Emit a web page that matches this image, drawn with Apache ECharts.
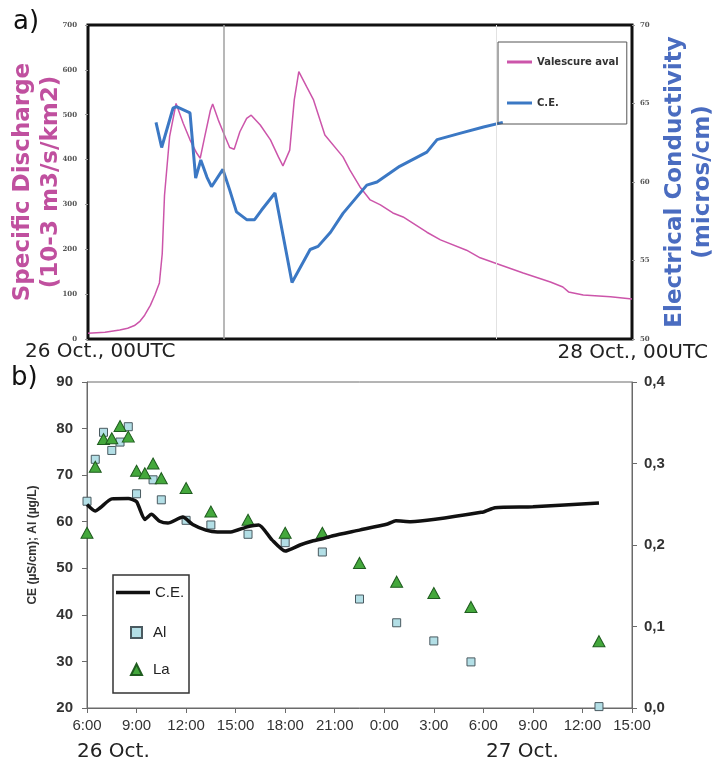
<!DOCTYPE html>
<html>
<head>
<meta charset="utf-8">
<script src="https://cdn.jsdelivr.net/npm/echarts@6/dist/echarts.min.js"></script>
<style>
  html, body { margin: 0; padding: 0; background: #fff; }
  #chart { width: 714px; height: 763px; }
</style>
</head>
<body>
<div id="chart"></div>
<script>
// a) hours since 26 Oct 00UTC
const qHours = [0, 1.5, 2.8, 3.5, 4.1, 4.6, 5.0, 5.5, 5.9, 6.3, 6.55, 6.75, 7.2, 7.77, 8.4, 9.0, 9.6, 9.9, 10.3, 10.8, 11.0, 11.5, 12.1, 12.5, 12.9, 13.4, 14.0, 14.4, 15.2, 16.1, 16.8, 17.2, 17.8, 18.2, 18.6, 19.3, 19.9, 20.9, 22.5, 23.1, 24.0, 24.9, 25.8, 26.9, 27.8, 29.9, 31.1, 33.4, 34.6, 36.4, 38.4, 40.8, 41.9, 42.4, 43.7, 46.1, 48];
const qValues = [13, 15, 20, 24, 30, 40, 53, 75, 98, 125, 190, 320, 451, 525, 481, 444, 414, 403, 451, 510, 524, 488, 451, 427, 423, 462, 492, 499, 477, 444, 406, 386, 421, 533, 596, 562, 533, 455, 406, 377, 339, 310, 299, 281, 272, 238, 221, 198, 181, 165, 147, 127, 116, 105, 98, 94, 89];
const ecaHours = [6.0, 6.5, 7.5, 7.8, 9.0, 9.5, 9.95, 10.5, 10.9, 11.9, 12.5, 13.1, 14.0, 14.7, 15.3, 16.5, 18.0, 19.6, 20.3, 21.4, 22.5, 24.6, 25.5, 27.5, 29.9, 30.8, 32.8, 34.9, 36.6];
const ecaValues = [63.8, 62.2, 64.7, 64.8, 64.4, 60.25, 61.4, 60.3, 59.7, 60.8, 59.5, 58.1, 57.6, 57.6, 58.2, 59.3, 53.6, 55.7, 55.9, 56.8, 58.0, 59.8, 60.0, 61.0, 61.9, 62.7, 63.1, 63.5, 63.8];

// b) hours since 26 Oct 00:00
const ceHours = [6.0, 6.5, 6.8, 7.5, 8.5, 9.0, 9.5, 9.9, 10.4, 10.9, 11.8, 12.4, 13.2, 13.9, 14.7, 15.7, 16.4, 17.2, 18.0, 18.9, 19.7, 20.2, 20.9, 22.5, 24.2, 24.7, 25.6, 30.0, 30.7, 33.0, 37.0];
const ceValues = [63.7, 62.3, 63.0, 64.9, 65.0, 64.3, 60.5, 61.6, 60.1, 59.7, 61.0, 59.4, 58.2, 57.8, 57.8, 58.9, 59.3, 56.1, 53.7, 55.0, 55.9, 56.3, 57.0, 58.2, 59.5, 60.2, 60.0, 62.1, 63.0, 63.2, 64.0];
const alHours = [6.0, 6.5, 7.0, 7.5, 8.0, 8.5, 9.0, 10.0, 10.5, 12.0, 13.5, 15.75, 18.0, 20.25, 22.5, 24.75, 27.0, 29.25, 37.0];
const alValues = [64.4, 73.4, 79.2, 75.3, 77.1, 80.4, 66.0, 69.0, 64.7, 60.3, 59.3, 57.3, 55.5, 53.5, 43.4, 38.3, 34.4, 29.9, 20.3];
const laHours = [6.0, 6.5, 7.0, 7.5, 8.0, 8.5, 9.0, 9.5, 10.0, 10.5, 12.0, 13.5, 15.75, 18.0, 20.25, 22.5, 24.75, 27.0, 29.25, 37.0];
const laValues = [0.215, 0.296, 0.330, 0.331, 0.346, 0.333, 0.291, 0.288, 0.300, 0.282, 0.270, 0.241, 0.231, 0.215, 0.215, 0.178, 0.155, 0.141, 0.124, 0.082];

const zip = (xs, ys) => xs.map((x, i) => [x, ys[i]]);

const chart = echarts.init(document.getElementById('chart'));

const tinyLabel = { fontSize: 7, fontFamily: 'DejaVu Serif', fontWeight: 'bold', color: '#555' };
const armLabel = { fontSize: 15, fontFamily: 'Liberation Sans', fontWeight: 'bold', color: '#333' };
const greyLine = { lineStyle: { color: '#6a6a6a', width: 1 } };

chart.setOption({
    animation: false,
    backgroundColor: '#fff',
    grid: [
        { left: 88, top: 25, width: 544, height: 314, show: true, borderColor: '#111', borderWidth: 3, outerBoundsMode: 'none' },
        { left: 87, top: 382, width: 545, height: 326, show: true, borderColor: '#6a6a6a', borderWidth: 1, outerBoundsMode: 'none' }
    ],
    legend: [
        {
            data: [{ name: 'Valescure aval', icon: 'rect' }, { name: 'CE_a', icon: 'rect' }],
            orient: 'vertical', left: 498, top: 42,
            itemWidth: 25, itemHeight: 3, itemGap: 31, padding: [15, 8, 16, 9],
            borderColor: '#555', borderWidth: 1,
            formatter: name => (name === 'CE_a' ? 'C.E.' : name),
            textStyle: { fontSize: 10, fontWeight: 'bold', fontFamily: 'DejaVu Sans', color: '#333' }
        },
        {
            data: [{ name: 'C.E.', icon: 'rect' }], left: 116, top: 585, padding: 0,
            itemWidth: 34, itemHeight: 3.5,
            textStyle: { fontSize: 15, fontFamily: 'Liberation Sans', color: '#222' }
        },
        {
            data: ['Al', 'La'], orient: 'vertical', left: 130, top: 625, padding: 0,
            itemWidth: 11, itemHeight: 11, itemGap: 22,
            textStyle: { fontSize: 15, fontFamily: 'Liberation Sans', color: '#222', padding: [0, 0, 0, 6] }
        }
    ],
    xAxis: [
        {
            gridIndex: 0, type: 'value', min: 0, max: 48,
            axisLine: { show: false }, axisTick: { show: false }, axisLabel: { show: false }, splitLine: { show: false }
        },
        {
            gridIndex: 1, type: 'value', min: 6, max: 39, interval: 3,
            axisLine: greyLine, axisTick: { show: true, length: 5, ...greyLine },
            axisLabel: { margin: 10, fontSize: 15, fontFamily: 'Liberation Sans', color: '#333', formatter: v => (v % 24) + ':00' },
            splitLine: { show: false }
        }
    ],
    yAxis: [
        {
            gridIndex: 0, type: 'value', min: 0, max: 700, interval: 100,
            name: 'Specific Discharge\n(10-3 m3/s/km2)', nameLocation: 'middle', nameGap: 23, nameMoveOverlap: false,
            nameTextStyle: { color: '#c0509f', fontSize: 23, fontWeight: 'bold', fontFamily: 'DejaVu Sans', lineHeight: 28 },
            axisLine: { show: false }, axisTick: { show: true, length: 3, lineStyle: { color: '#999' } },
            axisLabel: { margin: 11, ...tinyLabel }, splitLine: { show: false }
        },
        {
            gridIndex: 0, type: 'value', position: 'right', min: 50, max: 70, interval: 5,
            name: 'Electrical Conductivity\n(micros/cm)', nameLocation: 'middle', nameGap: 25,
            nameTextStyle: { color: '#4a6cc0', fontSize: 23, fontWeight: 'bold', fontFamily: 'DejaVu Sans', lineHeight: 28 },
            axisLine: { show: false }, axisTick: { show: true, length: 3, lineStyle: { color: '#999' } },
            axisLabel: { margin: 8, ...tinyLabel }, splitLine: { show: false }
        },
        {
            gridIndex: 1, type: 'value', min: 20, max: 90, interval: 10,
            name: 'CE (µS/cm); Al (µg/L)', nameLocation: 'middle', nameGap: 48,
            nameTextStyle: { fontSize: 12, fontWeight: 'bold', fontFamily: 'Liberation Sans', color: '#333' },
            axisLine: { show: true, ...greyLine }, axisTick: { show: true, length: 5, ...greyLine },
            axisLabel: { margin: 14, ...armLabel }, splitLine: { show: false }
        },
        {
            gridIndex: 1, type: 'value', position: 'right', min: 0, max: 0.4, interval: 0.1,
            axisLine: { show: true, ...greyLine }, axisTick: { show: true, length: 5, ...greyLine },
            axisLabel: { margin: 12, ...armLabel, formatter: v => v.toFixed(1).replace('.', ',') },
            splitLine: { show: false }
        }
    ],
    graphic: [
        { type: 'text', x: 13, y: 22, style: { text: 'a)', fontSize: 26, fontFamily: 'DejaVu Sans', fill: '#111', textVerticalAlign: 'middle' } },
        { type: 'text', x: 25, y: 352, style: { text: '26 Oct., 00UTC', fontSize: 20, fontFamily: 'DejaVu Sans', fill: '#222', textVerticalAlign: 'middle' } },
        { type: 'text', x: 708, y: 353, style: { text: '28 Oct., 00UTC', fontSize: 20, fontFamily: 'DejaVu Sans', fill: '#222', textAlign: 'right', textVerticalAlign: 'middle' } },
        { type: 'text', x: 11, y: 378, style: { text: 'b)', fontSize: 26, fontFamily: 'DejaVu Sans', fill: '#111', textVerticalAlign: 'middle' } },
        { type: 'text', x: 77, y: 752, style: { text: '26 Oct.', fontSize: 20, fontFamily: 'DejaVu Sans', fill: '#222', textVerticalAlign: 'middle' } },
        { type: 'text', x: 486, y: 752, style: { text: '27 Oct.', fontSize: 20, fontFamily: 'DejaVu Sans', fill: '#222', textVerticalAlign: 'middle' } },
        { type: 'rect', shape: { x: 113, y: 575, width: 76, height: 118 }, style: { fill: 'none', stroke: '#333', lineWidth: 1.5 } }
    ],
    series: [
        {
            name: 'Valescure aval', type: 'line', xAxisIndex: 0, yAxisIndex: 0,
            data: zip(qHours, qValues), symbol: 'none',
            lineStyle: { color: '#cc55aa', width: 1.5 }, itemStyle: { color: '#cc55aa' },
            markLine: {
                silent: true, symbol: 'none', label: { show: false },
                data: [
                    { xAxis: 12, lineStyle: { color: '#a0a0a0', width: 1.5, type: 'solid' } },
                    { xAxis: 36, lineStyle: { color: '#e2e2e2', width: 1, type: 'solid' } }
                ]
            }
        },
        {
            name: 'CE_a', type: 'line', xAxisIndex: 0, yAxisIndex: 1,
            data: zip(ecaHours, ecaValues), symbol: 'none',
            lineStyle: { color: '#3b78c4', width: 3 }, itemStyle: { color: '#3b78c4' }
        },
        {
            name: 'C.E.', type: 'line', xAxisIndex: 1, yAxisIndex: 2,
            data: zip(ceHours, ceValues), symbol: 'none', smooth: 0.2,
            lineStyle: { color: '#111', width: 3.5 }, itemStyle: { color: '#111' }
        },
        {
            name: 'Al', type: 'scatter', xAxisIndex: 1, yAxisIndex: 2,
            data: zip(alHours, alValues), symbol: 'rect', symbolSize: 8,
            itemStyle: { color: '#b3dfe6', borderColor: '#4a5a60', borderWidth: 1, opacity: 1 }
        },
        {
            name: 'La', type: 'scatter', xAxisIndex: 1, yAxisIndex: 3,
            data: zip(laHours, laValues), symbol: 'triangle', symbolSize: [12, 11],
            itemStyle: { color: '#44a83c', borderColor: '#1f5c1f', borderWidth: 1, opacity: 1 }
        }
    ]
});

window.addEventListener('resize', () => chart.resize());
</script>
</body>
</html>
